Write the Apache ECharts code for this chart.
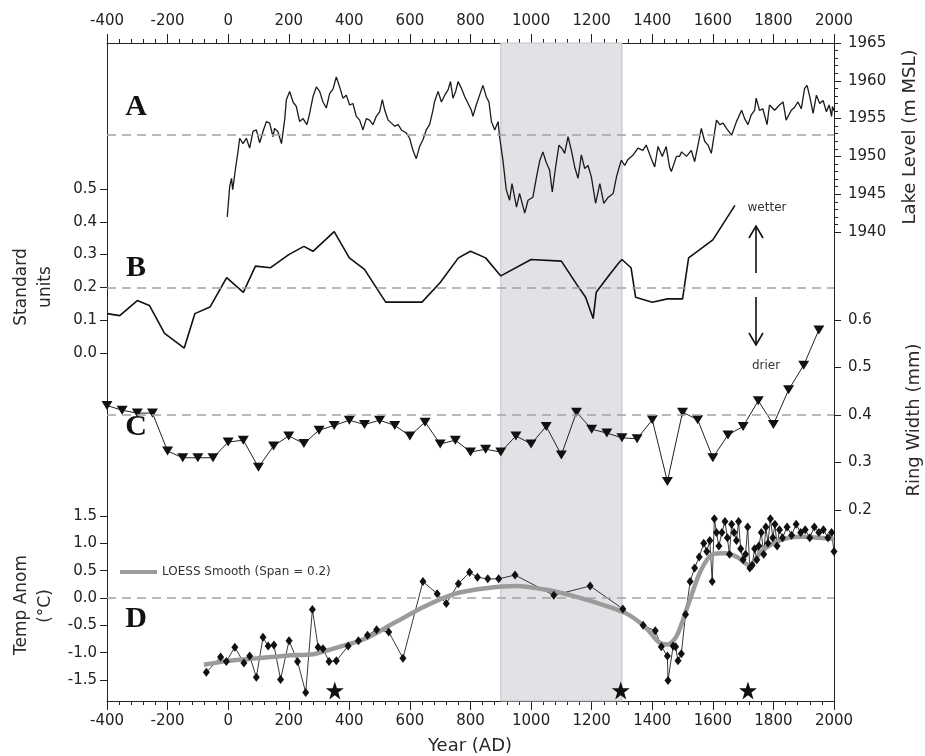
<!DOCTYPE html>
<html><head><meta charset="utf-8">
<script src="https://cdn.jsdelivr.net/npm/echarts@6/dist/echarts.min.js"></script>
<style>html,body{margin:0;padding:0;background:#fff}#c{width:925px;height:756px}</style>
</head><body><div id="c"></div>
<script>
// ---------- DATA ----------
const yearRange = [-400, 2000];
const mcaPeriod = [900, 1300];
const referenceValues = [1952.8, 0.2, 0.4, 0.0];

// A: lake level (m MSL)
const lakeYears = [-3,5,11,15,25,33,38,49,60,71,82,93,104,115,126,137,148,153,164,176,187,192,203,214,225,236,247,260,269,280,291,302,313,324,335,346,357,368,379,390,401,412,423,434,445,456,467,478,489,500,509,517,528,539,550,561,572,588,599,610,621,632,643,654,665,676,681,693,704,715,726,734,742,751,759,770,781,792,803,808,819,830,841,852,861,869,880,891,896,907,918,929,937,952,962,979,990,1006,1018,1029,1039,1050,1061,1070,1081,1092,1103,1111,1122,1133,1144,1155,1166,1177,1188,1199,1213,1227,1240,1255,1271,1282,1291,1298,1309,1320,1337,1353,1369,1380,1397,1408,1419,1433,1446,1457,1463,1468,1480,1490,1497,1513,1529,1540,1551,1562,1573,1584,1595,1612,1623,1634,1645,1662,1678,1695,1705,1716,1727,1738,1743,1754,1765,1779,1787,1804,1820,1832,1842,1859,1870,1881,1892,1903,1911,1920,1931,1942,1953,1964,1975,1984,1992,1995,2000];
const lakeLevel = [1942.0,1946.0,1947.1,1945.6,1948.6,1950.8,1952.4,1951.7,1952.4,1951.1,1953.3,1953.5,1951.8,1953.3,1954.6,1954.4,1952.6,1953.7,1953.3,1951.7,1955.0,1957.5,1958.6,1957.2,1956.6,1954.6,1955.0,1954.2,1955.7,1957.9,1959.2,1958.6,1957.2,1956.4,1958.3,1958.9,1960.5,1959.2,1957.7,1958.1,1956.8,1957.0,1955.3,1954.8,1953.5,1955.0,1954.8,1954.2,1955.3,1955.9,1957.5,1956.1,1954.8,1954.4,1954.0,1954.2,1953.5,1953.1,1952.4,1950.8,1949.7,1951.3,1952.2,1953.5,1954.2,1956.1,1957.2,1958.6,1957.2,1958.1,1958.8,1959.9,1957.7,1958.6,1959.9,1959.0,1957.9,1957.0,1956.1,1955.3,1956.8,1958.1,1959.4,1957.9,1957.2,1954.6,1953.5,1954.6,1952.6,1949.5,1945.6,1944.2,1946.4,1943.3,1945.1,1942.5,1944.2,1944.6,1947.3,1949.5,1950.6,1949.2,1948.2,1945.3,1948.6,1951.5,1951.0,1950.4,1952.6,1950.8,1948.6,1947.1,1950.2,1948.4,1948.8,1947.3,1943.8,1946.4,1943.8,1944.6,1945.1,1947.3,1948.6,1949.5,1948.8,1949.6,1950.2,1951.1,1950.8,1951.5,1949.7,1948.6,1951.3,1950.0,1951.3,1948.6,1948.0,1948.2,1950.0,1950.0,1950.6,1950.0,1950.8,1949.3,1951.5,1953.7,1952.0,1951.5,1950.4,1954.8,1954.2,1954.4,1953.7,1952.8,1954.6,1956.1,1955.0,1954.2,1955.5,1956.1,1957.7,1956.1,1956.3,1954.2,1956.8,1956.1,1956.8,1957.2,1954.8,1956.1,1956.5,1957.2,1956.3,1959.0,1959.4,1957.9,1955.7,1958.1,1957.0,1957.4,1955.9,1956.8,1955.3,1956.6,1956.0];

// B: standard units
const stdYears = [-400,-358,-300,-260,-210,-145,-110,-60,-5,50,90,140,200,250,280,350,400,450,520,640,700,760,800,850,900,1000,1100,1150,1180,1205,1215,1260,1290,1300,1330,1345,1400,1450,1500,1520,1600,1673];
const stdValues = [0.12,0.114,0.16,0.145,0.06,0.015,0.12,0.14,0.23,0.185,0.265,0.26,0.30,0.325,0.31,0.37,0.29,0.255,0.155,0.155,0.215,0.29,0.31,0.29,0.235,0.285,0.28,0.21,0.17,0.105,0.185,0.24,0.275,0.285,0.26,0.17,0.155,0.165,0.165,0.29,0.345,0.45];

// C: ring width (mm)
const ringYears = [-400,-350,-300,-250,-200,-150,-100,-50,0,50,100,150,200,250,300,350,400,450,500,550,600,650,700,750,800,850,900,950,1000,1050,1100,1150,1200,1250,1300,1350,1400,1450,1500,1550,1600,1650,1700,1750,1800,1850,1900,1950];
const ringWidth = [0.42,0.41,0.404,0.404,0.324,0.31,0.31,0.31,0.343,0.347,0.29,0.335,0.356,0.34,0.368,0.378,0.389,0.38,0.389,0.378,0.356,0.385,0.339,0.347,0.322,0.328,0.322,0.356,0.339,0.376,0.316,0.406,0.37,0.362,0.352,0.35,0.39,0.26,0.406,0.39,0.31,0.358,0.376,0.43,0.38,0.453,0.505,0.579];

// D: temperature anomaly (°C)
const tempYears = [-72,-25,-6,22,52,71,93,115,132,151,173,201,229,256,278,297,313,333,357,396,430,460,490,530,577,643,690,720,760,797,823,857,893,947,1075,1195,1303,1370,1410,1430,1450,1452,1469,1477,1485,1496,1510,1525,1540,1555,1570,1580,1590,1598,1605,1612,1620,1630,1640,1648,1655,1662,1670,1678,1685,1692,1700,1708,1715,1722,1730,1738,1745,1752,1760,1768,1775,1782,1790,1798,1805,1812,1820,1830,1845,1860,1875,1890,1905,1920,1935,1950,1965,1980,1992,2000];
const tempAnom = [-1.36,-1.08,-1.16,-0.90,-1.19,-1.06,-1.45,-0.72,-0.88,-0.86,-1.49,-0.78,-1.16,-1.73,-0.21,-0.90,-0.93,-1.16,-1.15,-0.88,-0.78,-0.68,-0.58,-0.62,-1.10,0.30,0.08,-0.10,0.26,0.47,0.38,0.35,0.35,0.42,0.05,0.22,-0.20,-0.50,-0.60,-0.89,-1.06,-1.51,-0.88,-0.89,-1.15,-1.02,-0.30,0.30,0.55,0.75,1.00,0.85,1.05,0.30,1.45,1.20,0.95,1.20,1.40,1.10,0.80,1.35,1.20,1.05,1.40,0.90,0.70,0.80,1.30,0.55,0.60,0.90,0.70,0.95,1.20,0.80,1.30,1.00,1.45,1.10,1.35,0.95,1.25,1.10,1.30,1.15,1.35,1.20,1.25,1.10,1.30,1.20,1.25,1.10,1.20,0.85];
const loessYears = [-80,0,100,200,280,350,450,550,650,750,850,950,1050,1150,1250,1320,1380,1420,1450,1480,1520,1560,1600,1640,1680,1720,1760,1800,1850,1900,1950,2000];
const loessValues = [-1.22,-1.15,-1.10,-1.05,-1.03,-0.92,-0.75,-0.45,-0.15,0.08,0.18,0.22,0.15,0.02,-0.15,-0.30,-0.55,-0.80,-0.85,-0.70,-0.10,0.50,0.80,0.82,0.75,0.60,0.85,1.00,1.10,1.12,1.10,1.08];
const starYears = [352, 1296, 1716];
const starLevel = [-1.69, -1.69, -1.69];

// ---------- CHART ----------
const zip = (a, b) => a.map((v, i) => [v, b[i]]);
const FONT = 'DejaVu Sans';
const INK = '#222';
const L = 107, R = 91;

const hiddenX = gi => ({type:'value', gridIndex:gi, min:yearRange[0], max:yearRange[1], show:false,
  axisLine:{onZero:false}});
const tickLabel = {fontFamily:FONT, fontSize:15, color:INK};
const plain = v => String(v);
const one = v => v.toFixed(1);
const refLine = v => ({silent:true, symbol:'none', label:{show:false},
  lineStyle:{type:[9,6], color:'#a3a3a3', width:1.5}, data:[{yAxis:v}]});

const starPath = 'path://M50,0 L61.8,35.4 L99,35.4 L69,57.3 L80.3,92.7 L50,70.8 L19.7,92.7 L31,57.3 L1,35.4 L38.2,35.4 Z';

const txt = (x, y, text, font, opts={}) => Object.assign({
  type:'text', x, y, silent:true,
  style:Object.assign({text, font, fill:'#2a2a2a', align:'center', verticalAlign:'middle'}, opts.style||{})
}, opts.el||{});

const yearAxis = (pos, margin) => ({type:'value', gridIndex:4, position:pos, min:yearRange[0], max:yearRange[1], interval:200,
  axisLine:{onZero:false, lineStyle:{color:INK, width:1}},
  axisTick:{length:9, lineStyle:{color:INK}}, minorTick:{show:true, splitNumber:5, length:4, lineStyle:{color:INK}},
  axisLabel:Object.assign({margin, formatter:plain}, tickLabel), splitLine:{show:false}, minorSplitLine:{show:false}});

const valAxis = (gi, pos, min, max, interval, fmt, margin, minor) => ({type:'value', gridIndex:gi, position:pos, min, max, interval,
  axisLine:{show:false, onZero:false}, axisTick:{show:true, length:7, lineStyle:{color:INK}},
  minorTick:{show:!!minor, splitNumber:5, length:4, lineStyle:{color:INK}},
  axisLabel:Object.assign({margin, formatter:fmt}, tickLabel), splitLine:{show:false}, minorSplitLine:{show:false}});

const frameAxis = pos => ({type:'value', gridIndex:4, position:pos, min:0, max:1,
  axisLine:{show:true, onZero:false, lineStyle:{color:INK, width:1}}, axisTick:{show:false}, axisLabel:{show:false}, splitLine:{show:false}});

const option = {
  animation:false,
  backgroundColor:'#fff',
  grid:[
    {left:L, right:R, top:43, height:189},
    {left:L, right:R, top:189, height:164},
    {left:L, right:R, top:320, height:190},
    {left:L, right:R, top:516, height:164},
    {left:L, right:R, top:43, height:658}
  ],
  xAxis:[hiddenX(0), hiddenX(1), hiddenX(2), hiddenX(3), yearAxis('top', 14), yearAxis('bottom', 13)],
  yAxis:[
    valAxis(0, 'right', 1940, 1965, 5, plain, 14, true),
    valAxis(1, 'left', 0, 0.5, 0.1, one, 10, false),
    valAxis(2, 'right', 0.2, 0.6, 0.1, one, 14, false),
    valAxis(3, 'left', -1.5, 1.5, 0.5, one, 10, false),
    frameAxis('left'), frameAxis('right')
  ],
  legend:{left:120, top:566, padding:0, itemWidth:37, itemHeight:4, itemGap:8,
    textStyle:{fontFamily:FONT, fontSize:12, color:'#333'},
    data:[{name:'LOESS Smooth (Span = 0.2)', icon:'rect'}]},
  series:[
    {name:'MCA', type:'line', xAxisIndex:4, yAxisIndex:4, data:[], z:-1, silent:true,
      markArea:{silent:true, itemStyle:{color:'#e1e2e6', borderColor:'#c2c2c2', borderWidth:1},
        data:[[{xAxis:mcaPeriod[0]}, {xAxis:mcaPeriod[1]}]]}},
    {name:'Lake level', type:'line', xAxisIndex:0, yAxisIndex:0, data:zip(lakeYears, lakeLevel),
      symbol:'none', lineStyle:{color:'#1a1a1a', width:1.3}, markLine:refLine(referenceValues[0])},
    {name:'Standard units', type:'line', xAxisIndex:1, yAxisIndex:1, data:zip(stdYears, stdValues),
      symbol:'none', lineStyle:{color:'#111', width:1.6}, markLine:refLine(referenceValues[1])},
    {name:'Ring width', type:'line', xAxisIndex:2, yAxisIndex:2, data:zip(ringYears, ringWidth),
      symbol:'triangle', symbolRotate:180, symbolSize:[11,9], itemStyle:{color:'#111', opacity:1},
      lineStyle:{color:'#222', width:1}, markLine:refLine(referenceValues[2])},
    {name:'Temp', type:'line', xAxisIndex:3, yAxisIndex:3, data:zip(tempYears, tempAnom), clip:false,
      symbol:'diamond', symbolSize:[7,9], itemStyle:{color:'#111', opacity:1},
      lineStyle:{color:'#222', width:0.9}, markLine:refLine(referenceValues[3])},
    {name:'LOESS Smooth (Span = 0.2)', type:'line', xAxisIndex:3, yAxisIndex:3, data:zip(loessYears, loessValues),
      clip:false, symbol:'none', smooth:0.3, z:3, color:'#9b9b9b', lineStyle:{color:'#9b9b9b', width:4.5}},
    {name:'Stars', type:'scatter', xAxisIndex:3, yAxisIndex:3, data:zip(starYears, starLevel), clip:false,
      symbol:starPath, symbolSize:18, itemStyle:{color:'#111', opacity:1}}
  ],
  graphic:[
    txt(136, 107, 'A', 'bold 30px "Liberation Serif"', {style:{fill:'#111'}}),
    txt(136, 268, 'B', 'bold 30px "Liberation Serif"', {style:{fill:'#111'}}),
    txt(136, 427, 'C', 'bold 30px "Liberation Serif"', {style:{fill:'#111'}}),
    txt(136, 619, 'D', 'bold 30px "Liberation Serif"', {style:{fill:'#111'}}),
    txt(557, 678, 'MCA', '16px "DejaVu Sans"', {style:{fill:'#333'}}),
    txt(470, 746, 'Year (AD)', '18px "DejaVu Sans"'),
    txt(22, 287, 'Standard', '17px "DejaVu Sans"', {el:{rotation:Math.PI/2}}),
    txt(46, 287, 'units', '17px "DejaVu Sans"', {el:{rotation:Math.PI/2}}),
    txt(22, 605, 'Temp Anom', '17px "DejaVu Sans"', {el:{rotation:Math.PI/2}}),
    txt(46, 606, '(°C)', '17px "DejaVu Sans"', {el:{rotation:Math.PI/2}}),
    txt(910, 137, 'Lake Level (m MSL)', '18px "DejaVu Sans"', {el:{rotation:Math.PI/2}}),
    txt(914, 420, 'Ring Width (mm)', '18px "DejaVu Sans"', {el:{rotation:Math.PI/2}}),
    txt(767, 208, 'wetter', '12px "DejaVu Sans"', {style:{fill:'#333'}}),
    txt(766, 366, 'drier', '12px "DejaVu Sans"', {style:{fill:'#333'}}),
    {type:'polyline', silent:true, shape:{points:[[756,273],[756,227]]}, style:{stroke:'#111', lineWidth:1.6, fill:null}},
    {type:'polyline', silent:true, shape:{points:[[749,238],[756,226],[763,238]]}, style:{stroke:'#111', lineWidth:1.6, fill:null}},
    {type:'polyline', silent:true, shape:{points:[[756,297],[756,344]]}, style:{stroke:'#111', lineWidth:1.6, fill:null}},
    {type:'polyline', silent:true, shape:{points:[[749,333],[756,345],[763,333]]}, style:{stroke:'#111', lineWidth:1.6, fill:null}}
  ]
};
const chart = echarts.init(document.getElementById('c'), null, {renderer:'canvas'});
chart.setOption(option);
</script></body></html>
